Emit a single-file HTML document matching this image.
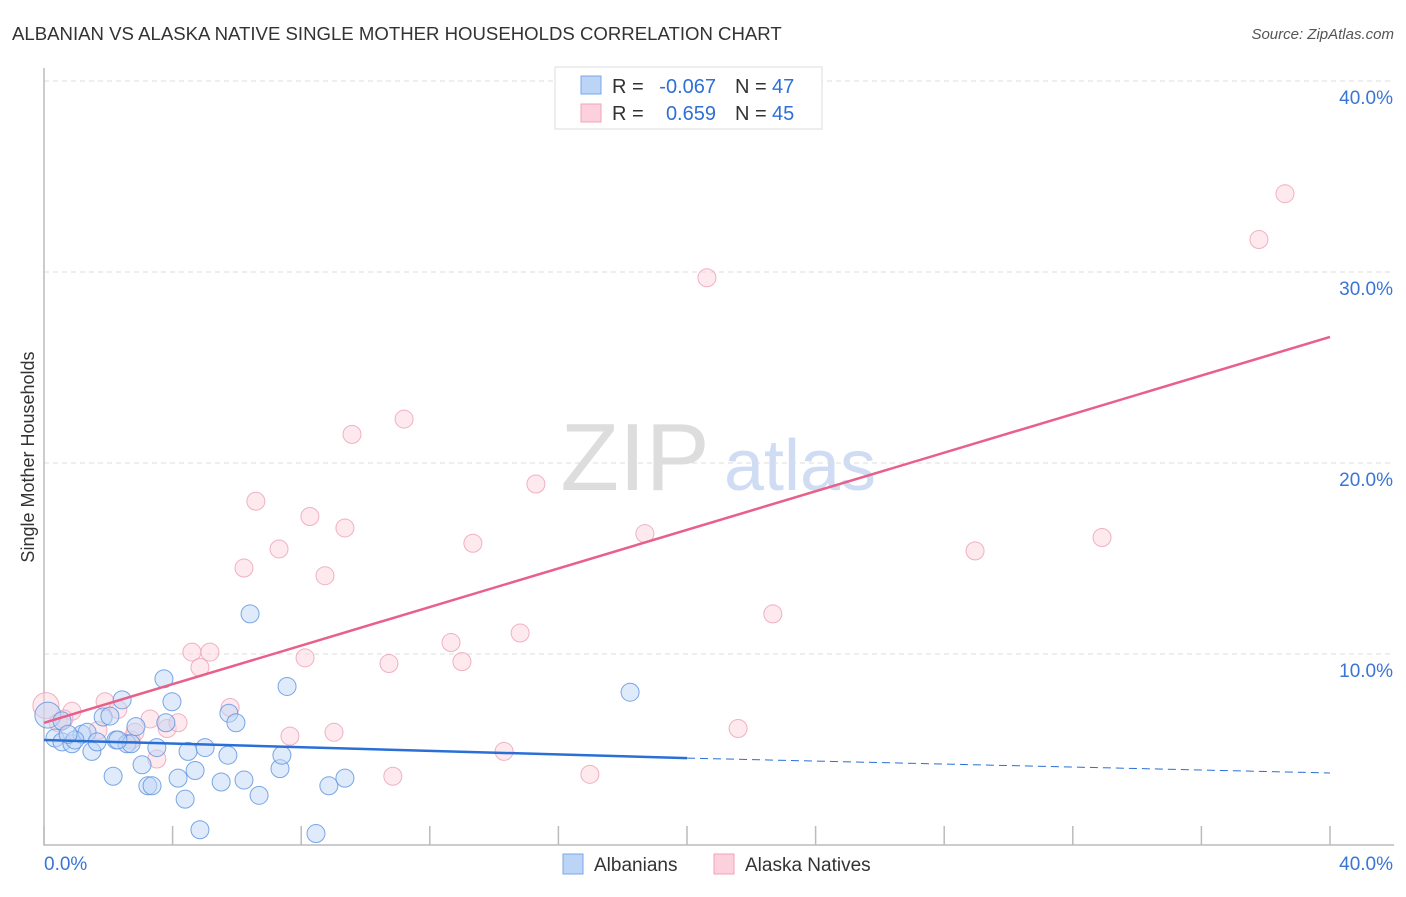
<!DOCTYPE html>
<html><head><meta charset="utf-8"><style>
body{margin:0;background:#fff;font-family:"Liberation Sans",sans-serif}
svg text{font-family:"Liberation Sans",sans-serif}
</style></head><body>
<svg id="c" width="1406" height="892">
<text x="12" y="40" font-size="18.6" fill="#333">ALBANIAN VS ALASKA NATIVE SINGLE MOTHER HOUSEHOLDS CORRELATION CHART</text>
<text x="1394" y="39" font-size="15" fill="#555" text-anchor="end" font-style="italic">Source: ZipAtlas.com</text>
<text x="34" y="457" font-size="18" fill="#333" text-anchor="middle" transform="rotate(-90 34 457)">Single Mother Households</text>
<g><text x="635" y="490" font-size="96" fill="#ddd" font-family="Liberation Serif" text-anchor="middle">ZIP</text><text x="800" y="490" font-size="72" fill="#cfdcf3" text-anchor="middle">atlas</text></g>
<g id="grid"></g><g id="pts"></g><g id="lines"></g>
<g>
<rect x="555" y="67" width="267" height="62" fill="#fff" stroke="#ddd"/>
<rect x="581" y="76" width="20" height="18" fill="#bcd4f6" stroke="#7aa7e8"/>
<rect x="581" y="104" width="20" height="18" fill="#fcd0dc" stroke="#f0a3b8"/>
<text x="612" y="93" font-size="20" fill="#333">R =</text>
<text x="716" y="93" font-size="20" fill="#2f6fd6" text-anchor="end">-0.067</text>
<text x="735" y="93" font-size="20" fill="#333">N =</text>
<text x="772" y="93" font-size="20" fill="#2f6fd6">47</text>
<text x="612" y="120" font-size="20" fill="#333">R =</text>
<text x="716" y="120" font-size="20" fill="#2f6fd6" text-anchor="end">0.659</text>
<text x="735" y="120" font-size="20" fill="#333">N =</text>
<text x="772" y="120" font-size="20" fill="#2f6fd6">45</text>
</g>
<g>
<rect x="563" y="854" width="20" height="20" fill="#bcd4f6" stroke="#7aa7e8"/>
<text x="594" y="871" font-size="19" fill="#333">Albanians</text>
<rect x="714" y="854" width="20" height="20" fill="#fcd0dc" stroke="#f0a3b8"/>
<text x="745" y="871" font-size="19" fill="#333">Alaska Natives</text>
</g>
</svg>
<script>
const yTicks=[10,20,30,40];
const yTickLabels=["10.0%","20.0%","30.0%","40.0%"];
const blueX=[0.12,0.34,0.56,0.87,1.18,1.34,1.49,1.65,1.84,2.05,2.15,2.24,2.43,2.58,2.71,2.86,3.05,3.23,3.36,3.51,3.73,3.79,3.98,4.17,4.39,4.48,4.70,4.85,5.01,5.51,5.72,5.75,5.97,6.22,6.41,6.69,7.34,7.40,7.56,8.46,8.86,9.36,18.23,0.56,0.96,2.30,0.75];
const blueY=[6.8,5.6,5.4,5.3,5.8,5.9,4.9,5.4,6.7,6.75,3.6,5.5,7.6,5.3,5.3,6.2,4.2,3.1,3.1,5.1,8.7,6.4,7.5,3.5,2.4,4.9,3.9,0.8,5.1,3.3,4.7,6.9,6.4,3.4,12.1,2.6,4.0,4.7,8.3,0.6,3.1,3.5,8.0,6.5,5.5,5.5,5.8];
const pinkX=[0.06,0.44,0.87,1.68,1.90,2.30,2.71,2.83,3.30,3.51,3.83,4.17,4.60,4.85,5.16,5.79,6.22,6.59,7.31,7.65,8.12,8.27,8.74,9.02,9.36,9.58,10.73,10.85,11.20,12.66,13.00,13.34,14.31,14.81,15.30,16.98,18.69,20.62,21.59,22.67,28.96,32.91,37.79,38.60,0.62];
const pinkY=[7.3,6.4,7.0,6.0,7.5,7.1,5.5,5.9,6.6,4.5,6.1,6.4,10.1,9.3,10.1,7.2,14.5,18.0,15.5,5.7,9.8,17.2,14.1,5.9,16.6,21.5,9.5,3.6,22.3,10.6,9.6,15.8,4.9,11.1,18.9,3.7,16.3,29.7,6.1,12.1,15.4,16.1,31.7,34.1,6.6];
const pinkTrend=[6.4,26.6];
const blueTrend=[5.5,4.55,3.77];
const X=v=>44+v*32.15, Y=v=>845-v*19.1;
const NS="http://www.w3.org/2000/svg";
function mk(p,t,a){const e=document.createElementNS(NS,t);for(const k in a)e.setAttribute(k,a[k]);p.appendChild(e);return e;}
const g=document.getElementById('grid');
yTicks.forEach((t,i)=>{
 const l=mk(g,'line',{x1:44,x2:1394,y1:Y(t),y2:Y(t),stroke:'#ddd','stroke-dasharray':'5,4'});
 
 
 const tx=mk(g,'text',{x:1393,y:Y(t)+23,'font-size':19,fill:'#3a75d6','text-anchor':'end'});
 tx.textContent=yTickLabels[i];
 
 
});
const ax=mk(g,'path',{d:'M44 68V845H1394',stroke:'#bbb',fill:'none','stroke-width':1.5});


for(let v=0;v<=40;v+=4){const t=mk(g,'line',{x1:X(v),x2:X(v),y1:826,y2:845,stroke:'#bbb','stroke-width':1.5});
 
 }
[[0,"0.0%",'start',44],[40,"40.0%",'end',1393]].forEach(a=>{const t=mk(g,'text',{x:a[3],y:870,'font-size':19,fill:'#3a75d6','text-anchor':a[2]});t.textContent=a[1];
 
 });
const p=document.getElementById('pts');
function dots(xs,ys,f,s,n){xs.forEach((x,i)=>{const c=mk(p,'circle',{cx:X(x),cy:Y(ys[i]),r:(i==0?13:9),fill:f,'fill-opacity':0.5,stroke:s,'stroke-width':1,'stroke-opacity':0.8});
 
 });}
dots(pinkX,pinkY,'#fbd3de','#ee9fb5','alaska-native-point');
dots(blueX,blueY,'#bfd6f5','#5a92e0','albanian-point');
const L=document.getElementById('lines');
const pl=mk(L,'line',{x1:X(0),y1:Y(pinkTrend[0]),x2:X(40),y2:Y(pinkTrend[1]),stroke:'#e8608a','stroke-width':2.5});


const bl=mk(L,'line',{x1:X(0),y1:Y(blueTrend[0]),x2:X(20),y2:Y(blueTrend[1]),stroke:'#2a6fd6','stroke-width':2.5});


const bd=mk(L,'line',{x1:X(20),y1:Y(blueTrend[1]),x2:X(40),y2:Y(blueTrend[2]),stroke:'#2a6fd6','stroke-width':1,'stroke-dasharray':'8,5'});


</script>
</body></html>
